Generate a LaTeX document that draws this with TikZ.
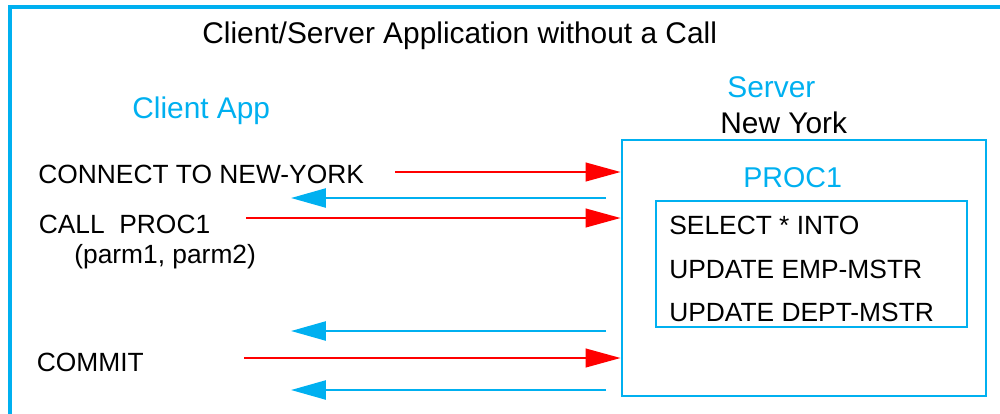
\documentclass[tikz,border=0pt]{standalone}
\usepackage{fontspec}
\setmainfont{Liberation Sans}
\usepackage{tikz}
\usetikzlibrary{arrows.meta,positioning,calc}
\definecolor{srvcyan}{RGB}{0,176,240}
\definecolor{callred}{RGB}{255,0,0}

\begin{document}
\begin{tikzpicture}[
    x=0.02cm, y=-0.02cm,
    font=\fontsize{15}{18}\selectfont,
    txt/.style={inner sep=0pt, anchor=base west},
    bigtxt/.style={txt, font=\fontsize{17}{20}\selectfont},
    cyantxt/.style={bigtxt, text=srvcyan},
    frame/.style={draw=srvcyan, line width=0.065cm},
    box/.style={rectangle, draw=srvcyan, line width=0.055cm, inner sep=0pt},
    redarrow/.style={-{Triangle[length=0.7cm,width=0.37cm]}, draw=callred, line width=0.05cm},
    bluearrow/.style={-{Triangle[length=0.7cm,width=0.38cm]}, draw=srvcyan, line width=0.05cm}
  ]
    \path[use as bounding box] (0,0) rectangle (1000,413);
    \clip (0,0) rectangle (1000,413);
    \draw[frame] (10,7) rectangle (1012,425);

    \node[bigtxt] (title) at (202,43) {Client/Server Application without a Call};
    \node[cyantxt] (client) at (132,118) {Client App};
    \node[cyantxt] (server) at (727,97) {Server};
    \node[bigtxt] (newyork) at (720,133) {New York};

    \node[box, minimum width=7.28cm, minimum height=5.12cm] (srvbox) at (804,268) {};
    \node[box, minimum width=6.22cm, minimum height=2.52cm] (sqlbox) at (811.5,264) {};
    \node[cyantxt, font=\fontsize{16.3}{19}\selectfont] (proc) at (743,187) {PROC1};
    \node[txt] (sel) at (669,234) {SELECT * INTO};
    \node[txt] (upemp) at (669,278) {UPDATE EMP-MSTR};
    \node[txt] (updept) at (669,321) {UPDATE DEPT-MSTR};

    \node[txt] (connect) at (38,183) {CONNECT TO NEW-YORK};
    \node[txt] (call) at (38.5,233) {CALL\ \ PROC1};
    \node[txt] (parms) at (74,263) {(parm1, parm2)};
    \node[txt] (commit) at (36.5,371) {COMMIT};

    % requests to the server
    \coordinate (r1) at (395,172);
    \coordinate (r2) at (246,218);
    \coordinate (r3) at (244,358);
    \draw[redarrow] (r1) -- (srvbox.west |- r1);
    \draw[redarrow] (r2) -- (srvbox.west |- r2);
    \draw[redarrow] (r3) -- (srvbox.west |- r3);

    % replies back to the client
    \coordinate (b1) at (606,198);
    \coordinate (b2) at (606,331);
    \coordinate (b3) at (606,390);
    \draw[bluearrow] (b1) -- ($(b1)+(-315,0)$);
    \draw[bluearrow] (b2) -- ($(b2)+(-315,0)$);
    \draw[bluearrow] (b3) -- ($(b3)+(-315,0)$);
  \end{tikzpicture}
\end{document}
